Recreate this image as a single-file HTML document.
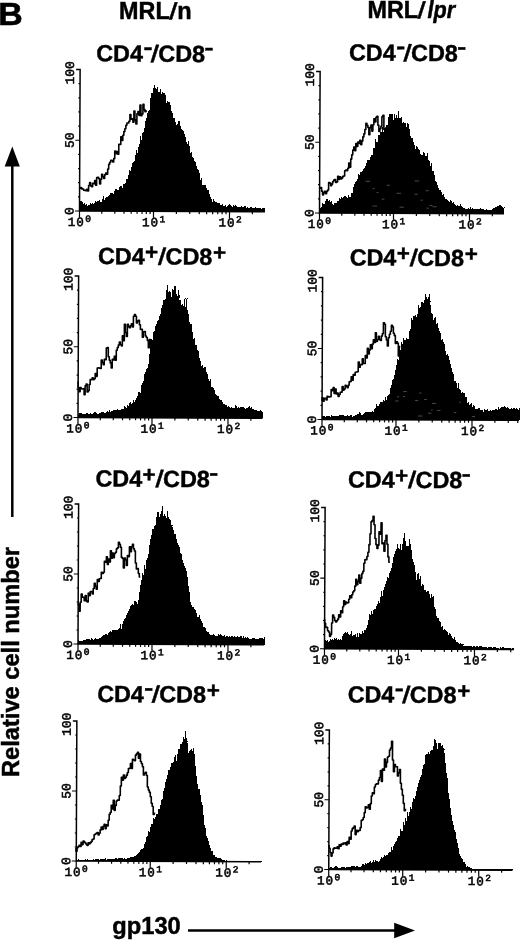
<!DOCTYPE html>
<html><head><meta charset="utf-8"><title>Figure B</title>
<style>html,body{margin:0;padding:0;background:#fff}svg{display:block}</style>
</head><body>
<svg width="520" height="942" viewBox="0 0 520 942">
<rect width="520" height="942" fill="#fff"/>
<g transform="rotate(0.25 79.5 211)">
<path d="M79.5 211V200.73h1V201.06h1V202.12h1V204h1V203.36h1V204.54h1V203.98h1V205.55h1V204.59h1V204.48h1V202.88h1V203.55h1V203.02h1V203.49h1V203.36h1V201.21h1V201.94h1V201.19h1V201h1V200.16h1V202.11h1V201.65h1V198.76h1V196.34h1V200.01h1V198.09h1V196.44h1V196.61h1V195.71h1V195.18h1V192.93h1V193.36h1V192.52h1V193.6h1V190.61h1V188.56h1V189.15h1V189.43h1V189.73h1V186.36h1V185.4h1V185.4h1V187.51h1V184.27h1V183.82h1V182.52h1V179h1V178.68h1V174.87h1V169.64h1V170.95h1V166.93h1V162.57h1V162.13h1V161.04h1V154.36h1V150.02h1V152.9h1V146.74h1V143.59h1V135.7h1V139.27h1V132.36h1V131.99h1V127.22h1V120.66h1V117.72h1V113.2h1V110.91h1V109.45h1V98.06h1V92.34h1V92.94h1V87.5h1V84.78h1V87.42h1V88.25h1V86.28h1V92.03h1V91.95h1V89.05h1V93.7h1V91.65h1V92.58h1V93.12h1V94.89h1V102.27h1V100.42h1V101.36h1V101.76h1V104.25h1V110.28h1V112.45h1V117.57h1V117.95h1V121.22h1V124.46h1V123.13h1V121.02h1V121.01h1V125.71h1V128.21h1V129.11h1V130.66h1V133.98h1V137.02h1V141.15h1V143.98h1V140.93h1V145.97h1V152.56h1V151.23h1V156.89h1V157.07h1V160.91h1V161.64h1V165.88h1V168.28h1V169.88h1V172.68h1V179.71h1V177.02h1V183.98h1V184.55h1V184.73h1V184.86h1V187.34h1V189.59h1V189.2h1V193.27h1V196.2h1V198.15h1V201.19h1V198.91h1V200.1h1V201.6h1V201.88h1V202.14h1V202.01h1V202.64h1V203.97h1V204.47h1V203.19h1V205.4h1V205.33h1V204.25h1V206.26h1V204.96h1V204.67h1V203.82h1V204.62h1V205.44h1V206.32h1V204.78h1V204.93h1V204.78h1V204.86h1V205.92h1V206.21h1V206.76h1V205.85h1V205.65h1V206.63h1V206.17h1V205.76h1V205.46h1V206.93h1V206.69h1V207.19h1V207.25h1V206.23h1V206.23h1V207.09h1V207.05h1V207.32h1V205.99h1V207.44h1V207.34h1V207.69h1V206.91h1V207.61h1V208.41h1V207.33h1V207.44h1V207.68h1V207.61h1V211Z" fill="#000" shape-rendering="crispEdges"/>
<path d="M79.5 187.84V188.24h1V187.45h1V188.9h1V188.97h1V190.2h1V190.38h1V190.58h1V189.31h1V190.95h1V185.39h1V182.57h1V185.89h1V186.73h1V183.16h1V183.69h1V180.41h1V185.21h1V177.56h1V177.23h1V178.71h1V183.78h1V179.09h1V174.13h1V176.65h1V178.43h1V174.62h1V172.86h1V173.96h1V168.96h1V164.22h1V162.11h1V160.05h1V160.42h1V161.74h1V158.5h1V151.01h1V153.51h1V151.48h1V154.02h1V144.21h1V144.21h1V136.64h1V140.25h1V135.08h1V131.38h1V128.5h1V125.07h1V122.78h1V122.82h1V120.97h1V114.36h1V118.94h1V118.53h1V121.98h1V110.9h1V119.65h1V123.73h1V113.62h1V111.32h1V115.1h1V104.69h1V115.44h1V113.66h1V104h1V109.32h1V111.43h1V110.69h1" fill="none" stroke="#000" stroke-width="1.6" stroke-linejoin="round"/>
<path d="M75.5 69.5H79.5V211H265" fill="none" stroke="#000" stroke-width="1.5"/>
<path d="M79.5 211h-4.5M79.5 196.85h-1.6M79.5 182.7h-1.6M79.5 168.55h-1.6M79.5 154.4h-1.6M79.5 140.25h-4.5M79.5 126.1h-1.6M79.5 111.95h-1.6M79.5 97.8h-1.6M79.5 83.65h-1.6M79.5 211v6.5M101.78 211v2.6M114.81 211v2.6M124.05 211v2.6M131.22 211v2.6M137.08 211v2.6M142.04 211v2.6M146.33 211v2.6M150.11 211v2.6M153.5 211v6.5M176.38 211v2.6M189.76 211v2.6M199.26 211v2.6M206.62 211v2.6M212.64 211v2.6M217.73 211v2.6M222.13 211v2.6M226.02 211v2.6M229.5 211v6.5M252.38 211v2.6" fill="none" stroke="#000" stroke-width="1.2"/>
<text transform="translate(73.5 72.8) rotate(-90)" text-anchor="middle" font-family="'Liberation Mono', 'DejaVu Sans Mono', monospace" font-size="13" stroke="#000" stroke-width="0.5">100</text>
<text transform="translate(73.5 140.25) rotate(-90)" text-anchor="middle" font-family="'Liberation Mono', 'DejaVu Sans Mono', monospace" font-size="13" stroke="#000" stroke-width="0.5">50</text>
<text transform="translate(73.5 211) rotate(-90)" text-anchor="middle" font-family="'Liberation Mono', 'DejaVu Sans Mono', monospace" font-size="13" stroke="#000" stroke-width="0.5">0</text>
<text x="67.9" y="226" font-family="'Liberation Mono', 'DejaVu Sans Mono', monospace" font-size="12.6" stroke="#000" stroke-width="0.55">1<tspan dx="0.9">0</tspan><tspan dy="-4.2" dx="1.4" font-size="9.5">0</tspan></text>
<text x="142.2" y="226" font-family="'Liberation Mono', 'DejaVu Sans Mono', monospace" font-size="12.6" stroke="#000" stroke-width="0.55">1<tspan dx="0.9">0</tspan><tspan dy="-4.2" dx="1.4" font-size="9.5">1</tspan></text>
<text x="218.6" y="226" font-family="'Liberation Mono', 'DejaVu Sans Mono', monospace" font-size="12.6" stroke="#000" stroke-width="0.55">1<tspan dx="0.9">0</tspan><tspan dy="-4.2" dx="1.4" font-size="9.5">2</tspan></text>
</g>
<g transform="rotate(0.25 319.5 213)">
<path d="M319.5 213V208.09h1V206.67h1V203.45h1V204.27h1V203.86h1V201.01h1V199h1V199.12h1V201.07h1V200.25h1V201.99h1V201.26h1V203.88h1V205.05h1V203.11h1V202.52h1V202.99h1V200.54h1V200.98h1V198.08h1V198.95h1V197.33h1V198.33h1V196.86h1V195.45h1V195.45h1V197.21h1V197.76h1V195.19h1V196.54h1V196.39h1V193.06h1V192.52h1V186.83h1V183.4h1V181.96h1V181.21h1V178.63h1V174.29h1V174.98h1V171.66h1V172.22h1V170.6h1V168.99h1V167.61h1V165.78h1V162.82h1V159.79h1V160.12h1V159.44h1V156.57h1V154.86h1V154.97h1V148.22h1V147.47h1V139.05h1V142.07h1V141.64h1V134.84h1V134.6h1V131.26h1V131.81h1V126.33h1V131.55h1V128.01h1V127.4h1V124.8h1V125.17h1V116.41h1V113.75h1V113.77h1V113.74h1V114.08h1V119.67h1V113.37h1V117.66h1V114.91h1V117.17h1V111.09h1V118.1h1V117.35h1V116.85h1V123.05h1V121.94h1V122.8h1V123.08h1V126.17h1V122.23h1V123.43h1V128.75h1V135.34h1V137.24h1V137.4h1V141.72h1V144.86h1V148.23h1V145.13h1V146.63h1V148.84h1V149.97h1V153.26h1V154.27h1V154.61h1V152.04h1V153.02h1V155.78h1V155.57h1V152.93h1V159.1h1V160.78h1V165.55h1V162.79h1V170.46h1V170.59h1V174.76h1V180.05h1V181.02h1V184.66h1V187.27h1V188.99h1V189.76h1V191.15h1V194.16h1V193.65h1V196.76h1V198.62h1V198.58h1V199.74h1V200.14h1V201.18h1V199.92h1V200.56h1V202.61h1V201.48h1V203.38h1V204.57h1V205.27h1V204.46h1V205.21h1V205.28h1V203.63h1V205.48h1V206.57h1V207.59h1V207.47h1V207.99h1V208.13h1V209.3h1V207.77h1V208.61h1V206.6h1V208.19h1V207.52h1V207.94h1V208.68h1V208.14h1V208.59h1V208.62h1V208.48h1V209.67h1V207.75h1V208.3h1V208.77h1V207.94h1V209.37h1V210.3h1V208.77h1V209.47h1V209.08h1V209.41h1V209.29h1V209.51h1V208.5h1V207.51h1V207.24h1V205.81h1V206.08h1V205.7h1V205.36h1V204.6h1V204h1V205.58h1V205.87h1V206.9h1V206.2h1V213Z" fill="#000" shape-rendering="crispEdges"/>
<path d="M381.5 198.83h2.81M372.5 188.3h1.8M386.5 184.95h3.27M425.5 190.28h3.11M426.5 207.68h2.32M376.5 192.18h2M372.5 205.83h4.51M396.5 192.94h4.49M432.5 206.25h4.18M414.5 180.58h4.45M414.5 193.85h3.28M429.5 204.98h2.89M365.5 181.12h4.48M399.5 206.83h4.29M420.5 199.73h2.1" stroke="#fff" stroke-width="0.7" stroke-opacity="0.42" fill="none"/>
<path d="M319.5 188.19V188.14h1V187.52h1V191.13h1V194.85h1V192.77h1V191.3h1V193.65h1V191.3h1V189.92h1V182.51h1V183.12h1V185.68h1V184.06h1V181.64h1V180.1h1V179.49h1V182.39h1V181.77h1V176.27h1V179.24h1V176.63h1V178.81h1V177.99h1V176.27h1V175.93h1V170.7h1V169.88h1V170.48h1V168.27h1V162.84h1V167.15h1V158.96h1V154.71h1V149.97h1V146.93h1V150.58h1V143.43h1V146.39h1V141.85h1V143.19h1V140.09h1V144.4h1V140.89h1V136.69h1V133.66h1V129.37h1V123.08h1V125h1V127.31h1V134.5h1V127.37h1V124.94h1V130.87h1V124.54h1V118.62h1V121.63h1V117.04h1V116h1V124.99h1V131.16h1V128.43h1V126.07h1V116.45h1V115h1V129.23h1V131.69h1V127.55h1" fill="none" stroke="#000" stroke-width="1.6" stroke-linejoin="round"/>
<path d="M315.5 71.5H319.5V213H504" fill="none" stroke="#000" stroke-width="1.5"/>
<path d="M319.5 213h-4.5M319.5 198.85h-1.6M319.5 184.7h-1.6M319.5 170.55h-1.6M319.5 156.4h-1.6M319.5 142.25h-4.5M319.5 128.1h-1.6M319.5 113.95h-1.6M319.5 99.8h-1.6M319.5 85.65h-1.6M319.5 213v6.5M341.78 213v2.6M354.81 213v2.6M364.05 213v2.6M371.22 213v2.6M377.08 213v2.6M382.04 213v2.6M386.33 213v2.6M390.11 213v2.6M393.5 213v6.5M416.38 213v2.6M429.76 213v2.6M439.26 213v2.6M446.62 213v2.6M452.64 213v2.6M457.73 213v2.6M462.13 213v2.6M466.02 213v2.6M469.5 213v6.5M492.38 213v2.6" fill="none" stroke="#000" stroke-width="1.2"/>
<text transform="translate(313.5 74.8) rotate(-90)" text-anchor="middle" font-family="'Liberation Mono', 'DejaVu Sans Mono', monospace" font-size="13" stroke="#000" stroke-width="0.5">100</text>
<text transform="translate(313.5 142.25) rotate(-90)" text-anchor="middle" font-family="'Liberation Mono', 'DejaVu Sans Mono', monospace" font-size="13" stroke="#000" stroke-width="0.5">50</text>
<text transform="translate(313.5 213) rotate(-90)" text-anchor="middle" font-family="'Liberation Mono', 'DejaVu Sans Mono', monospace" font-size="13" stroke="#000" stroke-width="0.5">0</text>
<text x="307.9" y="228" font-family="'Liberation Mono', 'DejaVu Sans Mono', monospace" font-size="12.6" stroke="#000" stroke-width="0.55">1<tspan dx="0.9">0</tspan><tspan dy="-4.2" dx="1.4" font-size="9.5">0</tspan></text>
<text x="382.2" y="228" font-family="'Liberation Mono', 'DejaVu Sans Mono', monospace" font-size="12.6" stroke="#000" stroke-width="0.55">1<tspan dx="0.9">0</tspan><tspan dy="-4.2" dx="1.4" font-size="9.5">1</tspan></text>
<text x="458.6" y="228" font-family="'Liberation Mono', 'DejaVu Sans Mono', monospace" font-size="12.6" stroke="#000" stroke-width="0.55">1<tspan dx="0.9">0</tspan><tspan dy="-4.2" dx="1.4" font-size="9.5">2</tspan></text>
</g>
<g transform="rotate(0.25 78 417.5)">
<path d="M78 417.5V413.5h1V413.29h1V413.42h1V413.03h1V414.12h1V413.99h1V414.12h1V414.02h1V412.83h1V413.25h1V413.87h1V413.79h1V412.59h1V413.85h1V413.45h1V412.81h1V412.31h1V412.22h1V413.23h1V413.63h1V413.48h1V412.51h1V412.58h1V411.78h1V411.81h1V411.46h1V412.64h1V412.51h1V411.6h1V411.13h1V411.76h1V410.13h1V412.05h1V410.76h1V411.17h1V410.01h1V409.76h1V410.2h1V409.5h1V408.59h1V409.96h1V409.83h1V409.83h1V408.74h1V408.68h1V408.81h1V406h1V407.16h1V407.64h1V404.31h1V405.46h1V403.06h1V401.84h1V403.49h1V403.08h1V399.49h1V401.3h1V399.34h1V397.42h1V395.97h1V391.78h1V392.22h1V393.18h1V384.92h1V382.64h1V380.43h1V373.52h1V371.56h1V368.45h1V367.8h1V363.29h1V353.53h1V339.3h1V338.93h1V339.22h1V332.09h1V330.27h1V325.62h1V323.86h1V320.83h1V319.95h1V315.29h1V313.94h1V308h1V304.15h1V299.89h1V298.32h1V289.75h1V285h1V291.61h1V290.73h1V291.23h1V296.99h1V288.52h1V290.01h1V285.49h1V286h1V293.84h1V295.21h1V289.16h1V294.56h1V299.13h1V300.25h1V305.04h1V303.72h1V305.65h1V297.29h1V306.28h1V297.5h1V309.42h1V313.13h1V321.53h1V323.68h1V323.54h1V331.69h1V338.16h1V337.29h1V344.22h1V344.54h1V349.27h1V350.86h1V357.7h1V360.13h1V365.9h1V364.22h1V367.19h1V366.91h1V366.44h1V371.39h1V373.1h1V378.37h1V380.24h1V378.45h1V386.43h1V386.48h1V387.68h1V389.33h1V393.73h1V394.29h1V394.92h1V395.3h1V398.16h1V399.86h1V399.5h1V401.11h1V403.64h1V403.19h1V404.13h1V404.4h1V406.56h1V405.17h1V405.92h1V407.49h1V406.44h1V407.31h1V407.13h1V406.9h1V404.77h1V405.76h1V407.8h1V405.82h1V407.27h1V405.86h1V406.48h1V406.05h1V406.39h1V407.71h1V407.91h1V407.32h1V407.31h1V406.6h1V405.6h1V407.55h1V406.34h1V407.85h1V408.07h1V409.65h1V409.05h1V408.89h1V409.85h1V410.51h1V410.23h1V409.69h1V410.14h1V411.53h1V417.5Z" fill="#000" shape-rendering="crispEdges"/>
<path d="M78 381.31V387.53h1V391.7h1V387.48h1V388.81h1V388.93h1V388.81h1V394.72h1V385.73h1V384.03h1V391.88h1V390.59h1V384.45h1V379.46h1V379.54h1V377.64h1V379.54h1V378.63h1V373.47h1V376.25h1V367.89h1V367.63h1V368.22h1V368.42h1V360.06h1V362.49h1V364.69h1V359.12h1V359.6h1V347.91h1V347.5h1V356.62h1V360.11h1V362.77h1V367.88h1V359.15h1V359.72h1V356.1h1V360.04h1V350.08h1V347.27h1V344.91h1V341.93h1V344.64h1V345.69h1V335.7h1V340.43h1V324h1V332.35h1V336.34h1V324h1V326.42h1V327.44h1V325.51h1V323.56h1V326.79h1V315.98h1V314.18h1V316h1V322.7h1V320.79h1V319.99h1V324.5h1V329.22h1V329.13h1V336.93h1V331.51h1V331.24h1V335.67h1V337.23h1V340.12h1V347.36h1V339.15h1V340.79h1" fill="none" stroke="#000" stroke-width="1.6" stroke-linejoin="round"/>
<path d="M74 276H78V417.5H262.5" fill="none" stroke="#000" stroke-width="1.5"/>
<path d="M78 417.5h-4.5M78 403.35h-1.6M78 389.2h-1.6M78 375.05h-1.6M78 360.9h-1.6M78 346.75h-4.5M78 332.6h-1.6M78 318.45h-1.6M78 304.3h-1.6M78 290.15h-1.6M78 417.5v6.5M100.28 417.5v2.6M113.31 417.5v2.6M122.55 417.5v2.6M129.72 417.5v2.6M135.58 417.5v2.6M140.54 417.5v2.6M144.83 417.5v2.6M148.61 417.5v2.6M152 417.5v6.5M174.88 417.5v2.6M188.26 417.5v2.6M197.76 417.5v2.6M205.12 417.5v2.6M211.14 417.5v2.6M216.23 417.5v2.6M220.63 417.5v2.6M224.52 417.5v2.6M228 417.5v6.5M250.88 417.5v2.6" fill="none" stroke="#000" stroke-width="1.2"/>
<text transform="translate(72 279.3) rotate(-90)" text-anchor="middle" font-family="'Liberation Mono', 'DejaVu Sans Mono', monospace" font-size="13" stroke="#000" stroke-width="0.5">100</text>
<text transform="translate(72 346.75) rotate(-90)" text-anchor="middle" font-family="'Liberation Mono', 'DejaVu Sans Mono', monospace" font-size="13" stroke="#000" stroke-width="0.5">50</text>
<text transform="translate(72 417.5) rotate(-90)" text-anchor="middle" font-family="'Liberation Mono', 'DejaVu Sans Mono', monospace" font-size="13" stroke="#000" stroke-width="0.5">0</text>
<text x="66.4" y="432.5" font-family="'Liberation Mono', 'DejaVu Sans Mono', monospace" font-size="12.6" stroke="#000" stroke-width="0.55">1<tspan dx="0.9">0</tspan><tspan dy="-4.2" dx="1.4" font-size="9.5">0</tspan></text>
<text x="140.7" y="432.5" font-family="'Liberation Mono', 'DejaVu Sans Mono', monospace" font-size="12.6" stroke="#000" stroke-width="0.55">1<tspan dx="0.9">0</tspan><tspan dy="-4.2" dx="1.4" font-size="9.5">1</tspan></text>
<text x="217.1" y="432.5" font-family="'Liberation Mono', 'DejaVu Sans Mono', monospace" font-size="12.6" stroke="#000" stroke-width="0.55">1<tspan dx="0.9">0</tspan><tspan dy="-4.2" dx="1.4" font-size="9.5">2</tspan></text>
</g>
<g transform="rotate(0.25 322 419.5)">
<path d="M322 419.5V415.62h1V416.22h1V416.27h1V416.9h1V416h1V415.81h1V416.2h1V416.11h1V416.73h1V415.14h1V415.67h1V416.02h1V415.46h1V415.57h1V415.67h1V415.8h1V415.62h1V415.38h1V415.14h1V415.09h1V415.31h1V414.99h1V415.57h1V416.33h1V416.25h1V414.88h1V416.29h1V415.78h1V415.28h1V414.7h1V416.43h1V415.78h1V415.4h1V415.18h1V414.52h1V413.81h1V413.72h1V412.07h1V412.67h1V414.47h1V414.39h1V413.34h1V413.18h1V411.97h1V412.09h1V411.75h1V412.17h1V411.62h1V411.47h1V411.74h1V410.91h1V411.79h1V408.46h1V407.42h1V403.79h1V405.44h1V405.75h1V403.47h1V401.65h1V401.68h1V401.59h1V399.88h1V400.5h1V396.57h1V399.34h1V395.91h1V394.66h1V393.76h1V387.8h1V384.72h1V379.38h1V378.22h1V375.03h1V369.76h1V364.44h1V358.69h1V359.28h1V353.66h1V349.64h1V341.48h1V343.28h1V337.58h1V339.71h1V339.17h1V337.6h1V338.62h1V338.92h1V330.84h1V328.56h1V318.08h1V319.78h1V315.69h1V315.23h1V314.38h1V316.22h1V313.93h1V304.29h1V308.06h1V306.24h1V301.27h1V302.85h1V301.59h1V293.41h1V297.04h1V298.05h1V296.76h1V293.75h1V300.69h1V304.75h1V312.69h1V313.64h1V319.34h1V317.61h1V316.76h1V323.26h1V322.83h1V327.37h1V330.68h1V332.66h1V339.83h1V338.62h1V341.26h1V343.54h1V350.42h1V354.68h1V353.58h1V354.99h1V359.35h1V363.61h1V367.16h1V371.87h1V373.46h1V380.19h1V379.98h1V382.76h1V387.48h1V382.79h1V388.81h1V389.64h1V392.62h1V391.24h1V392.09h1V391.99h1V396.45h1V396.63h1V401.9h1V401.71h1V404.42h1V403.03h1V402.84h1V405.96h1V404.22h1V405.11h1V407.84h1V407.84h1V408.02h1V407.45h1V406.84h1V408.95h1V409.41h1V409.08h1V411.37h1V408.71h1V409.45h1V409.78h1V408.55h1V410.15h1V410.73h1V409.45h1V410.37h1V409.63h1V409.63h1V409.06h1V408.53h1V408.12h1V409.17h1V406.54h1V407.83h1V407.55h1V406.01h1V406h1V405.96h1V405.49h1V405.87h1V407.34h1V406.11h1V407.45h1V408.15h1V408.36h1V407.44h1V408.53h1V406.85h1V407.48h1V407.87h1V407.53h1V407.88h1V409.58h1V406.87h1V419.5Z" fill="#000" shape-rendering="crispEdges"/>
<path d="M472 415.97h3.19M397 396.42h2.06M459 401.56h1.77M418 415.6h4.51M403 396.15h1.97M419 392.68h2.34M454 412.07h2.29M431 409.49h1.61M403 391.23h3.8M424 399.13h2.81M432 402.96h3.88M437 409.95h3.41M395 400.62h3.61M428 412.72h3.39M415 400.03h3.21" stroke="#fff" stroke-width="0.7" stroke-opacity="0.42" fill="none"/>
<path d="M322 400.91V397.83h1V401.22h1V398.25h1V398.36h1V399.86h1V396.21h1V396.81h1V396.82h1V396.59h1V389.55h1V390.59h1V387.5h1V393.4h1V388.89h1V393.93h1V392.87h1V396.31h1V394.47h1V392.24h1V392.08h1V386.45h1V389.99h1V389h1V385.09h1V386.07h1V387.56h1V385.12h1V381.75h1V381.26h1V376.63h1V380.18h1V374.47h1V375.15h1V372.08h1V371.85h1V371.55h1V361.95h1V367.03h1V364.38h1V364.59h1V358.5h1V363.36h1V363.26h1V355.31h1V357.81h1V348.22h1V353.71h1V349.67h1V344.69h1V348.49h1V343.86h1V339.47h1V342.29h1V332.5h1V341.32h1V339.54h1V335.95h1V339.28h1V340.16h1V335.82h1V333.35h1V322.5h1V323.94h1V336.44h1V339.7h1V345.71h1V337.52h1V333.98h1V331.02h1V325h1V326.57h1V332.95h1V335.35h1V343.14h1V341.43h1V343.03h1V355.69h1V346.25h1" fill="none" stroke="#000" stroke-width="1.6" stroke-linejoin="round"/>
<path d="M318 277.5H322V419.5H519" fill="none" stroke="#000" stroke-width="1.5"/>
<path d="M322 419.5h-4.5M322 405.3h-1.6M322 391.1h-1.6M322 376.9h-1.6M322 362.7h-1.6M322 348.5h-4.5M322 334.3h-1.6M322 320.1h-1.6M322 305.9h-1.6M322 291.7h-1.6M322 419.5v6.5M344.28 419.5v2.6M357.31 419.5v2.6M366.55 419.5v2.6M373.72 419.5v2.6M379.58 419.5v2.6M384.54 419.5v2.6M388.83 419.5v2.6M392.61 419.5v2.6M396 419.5v6.5M418.88 419.5v2.6M432.26 419.5v2.6M441.76 419.5v2.6M449.12 419.5v2.6M455.14 419.5v2.6M460.23 419.5v2.6M464.63 419.5v2.6M468.52 419.5v2.6M472 419.5v6.5M494.88 419.5v2.6M508.26 419.5v2.6M517.76 419.5v2.6" fill="none" stroke="#000" stroke-width="1.2"/>
<text transform="translate(316 280.8) rotate(-90)" text-anchor="middle" font-family="'Liberation Mono', 'DejaVu Sans Mono', monospace" font-size="13" stroke="#000" stroke-width="0.5">100</text>
<text transform="translate(316 348.5) rotate(-90)" text-anchor="middle" font-family="'Liberation Mono', 'DejaVu Sans Mono', monospace" font-size="13" stroke="#000" stroke-width="0.5">50</text>
<text transform="translate(316 419.5) rotate(-90)" text-anchor="middle" font-family="'Liberation Mono', 'DejaVu Sans Mono', monospace" font-size="13" stroke="#000" stroke-width="0.5">0</text>
<text x="310.4" y="434.5" font-family="'Liberation Mono', 'DejaVu Sans Mono', monospace" font-size="12.6" stroke="#000" stroke-width="0.55">1<tspan dx="0.9">0</tspan><tspan dy="-4.2" dx="1.4" font-size="9.5">0</tspan></text>
<text x="384.7" y="434.5" font-family="'Liberation Mono', 'DejaVu Sans Mono', monospace" font-size="12.6" stroke="#000" stroke-width="0.55">1<tspan dx="0.9">0</tspan><tspan dy="-4.2" dx="1.4" font-size="9.5">1</tspan></text>
<text x="461.1" y="434.5" font-family="'Liberation Mono', 'DejaVu Sans Mono', monospace" font-size="12.6" stroke="#000" stroke-width="0.55">1<tspan dx="0.9">0</tspan><tspan dy="-4.2" dx="1.4" font-size="9.5">2</tspan></text>
</g>
<g transform="rotate(0.25 78 644)">
<path d="M78 644V640.25h1V641.25h1V640.89h1V641.06h1V640.94h1V639.66h1V640.2h1V640.17h1V639.33h1V638.72h1V638.99h1V638.88h1V639.71h1V638.38h1V638.46h1V639.46h1V639.11h1V638.16h1V639.03h1V638.85h1V638.69h1V637.49h1V638.26h1V637.28h1V636.15h1V635.06h1V634.5h1V634.13h1V633.69h1V635.18h1V633.03h1V631.46h1V631.05h1V631.66h1V629.98h1V630.16h1V629.49h1V629.45h1V629.68h1V629.97h1V629.28h1V627.8h1V623.62h1V628.38h1V623.67h1V620.8h1V618.83h1V617.65h1V614.98h1V612.32h1V611.02h1V608.56h1V605.46h1V604.73h1V603.77h1V604.8h1V600.76h1V601.21h1V602.13h1V603.42h1V599.63h1V591.77h1V585h1V580.13h1V572.88h1V574.29h1V564.7h1V568.31h1V559.27h1V557.89h1V553.92h1V544.69h1V539.06h1V534.52h1V528.24h1V526.61h1V524.63h1V516.74h1V511.96h1V511.33h1V516.65h1V513.19h1V510.41h1V505.5h1V515.65h1V513.18h1V515.66h1V517.96h1V510.45h1V516.52h1V518.13h1V519.31h1V524.45h1V524.42h1V526.8h1V529.99h1V533.23h1V533.87h1V538.54h1V542.88h1V544.42h1V546.75h1V552.39h1V553.48h1V559.44h1V562.17h1V565.12h1V567.69h1V570.21h1V576.67h1V585.9h1V591.1h1V601.04h1V604.41h1V606.72h1V606.87h1V608.51h1V609.24h1V612.34h1V616.57h1V616.8h1V614.95h1V618.63h1V620.15h1V622.18h1V626.88h1V626.01h1V627.53h1V630.33h1V631.42h1V631.92h1V633.92h1V633.97h1V634.38h1V634.07h1V633.91h1V634.24h1V635.22h1V635.11h1V635.83h1V633.86h1V634.76h1V633.82h1V633.98h1V635.84h1V635.08h1V634.63h1V636.67h1V635.05h1V635.33h1V635.88h1V635.06h1V636.55h1V635.57h1V634.83h1V636.27h1V635.13h1V636.52h1V636.27h1V635.49h1V636.03h1V635.83h1V635.69h1V635.53h1V637.46h1V635.6h1V637.06h1V636.77h1V637.32h1V636.14h1V637h1V638.65h1V638.09h1V637.92h1V637.73h1V637.56h1V637.41h1V637.89h1V637.75h1V637.77h1V637.94h1V636.83h1V637.63h1V637.5h1V637.29h1V638.09h1V636.67h1V644Z" fill="#000" shape-rendering="crispEdges"/>
<path d="M78 603.44V604.38h1V611.19h1V602.24h1V594h1V597.11h1V597.51h1V600.7h1V595.48h1V601.01h1V601.97h1V593.13h1V595.56h1V591.54h1V591.42h1V593.84h1V588.44h1V583.35h1V586.28h1V589.16h1V579.39h1V581.42h1V578.7h1V578.32h1V572.19h1V573.37h1V572.16h1V561.18h1V562.04h1V556.69h1V564.43h1V558.82h1V561.87h1V550.66h1V558.16h1V553.01h1V557.65h1V553.32h1V552.19h1V548.62h1V547.69h1V542.16h1V544h1V547.12h1V557.22h1V558.19h1V567.79h1V557.8h1V559.74h1V565.21h1V555.25h1V556.36h1V546.66h1V551.51h1V546.56h1V544h1V548.5h1V550.7h1V562.77h1V568.67h1V568.3h1V573.22h1V576.74h1" fill="none" stroke="#000" stroke-width="1.6" stroke-linejoin="round"/>
<path d="M74 504H78V644H264" fill="none" stroke="#000" stroke-width="1.5"/>
<path d="M78 644h-4.5M78 630h-1.6M78 616h-1.6M78 602h-1.6M78 588h-1.6M78 574h-4.5M78 560h-1.6M78 546h-1.6M78 532h-1.6M78 518h-1.6M78 644v6.5M100.28 644v2.6M113.31 644v2.6M122.55 644v2.6M129.72 644v2.6M135.58 644v2.6M140.54 644v2.6M144.83 644v2.6M148.61 644v2.6M152 644v6.5M174.88 644v2.6M188.26 644v2.6M197.76 644v2.6M205.12 644v2.6M211.14 644v2.6M216.23 644v2.6M220.63 644v2.6M224.52 644v2.6M228 644v6.5M250.88 644v2.6" fill="none" stroke="#000" stroke-width="1.2"/>
<text transform="translate(72 507.3) rotate(-90)" text-anchor="middle" font-family="'Liberation Mono', 'DejaVu Sans Mono', monospace" font-size="13" stroke="#000" stroke-width="0.5">100</text>
<text transform="translate(72 574) rotate(-90)" text-anchor="middle" font-family="'Liberation Mono', 'DejaVu Sans Mono', monospace" font-size="13" stroke="#000" stroke-width="0.5">50</text>
<text transform="translate(72 644) rotate(-90)" text-anchor="middle" font-family="'Liberation Mono', 'DejaVu Sans Mono', monospace" font-size="13" stroke="#000" stroke-width="0.5">0</text>
<text x="66.4" y="659" font-family="'Liberation Mono', 'DejaVu Sans Mono', monospace" font-size="12.6" stroke="#000" stroke-width="0.55">1<tspan dx="0.9">0</tspan><tspan dy="-4.2" dx="1.4" font-size="9.5">0</tspan></text>
<text x="140.7" y="659" font-family="'Liberation Mono', 'DejaVu Sans Mono', monospace" font-size="12.6" stroke="#000" stroke-width="0.55">1<tspan dx="0.9">0</tspan><tspan dy="-4.2" dx="1.4" font-size="9.5">1</tspan></text>
<text x="217.1" y="659" font-family="'Liberation Mono', 'DejaVu Sans Mono', monospace" font-size="12.6" stroke="#000" stroke-width="0.55">1<tspan dx="0.9">0</tspan><tspan dy="-4.2" dx="1.4" font-size="9.5">2</tspan></text>
</g>
<g transform="rotate(0.25 324.5 648.75)">
<path d="M324.5 648.75V639.75h1V640.72h1V639.62h1V641.97h1V640.49h1V638.59h1V640.05h1V639.3h1V640.44h1V638.43h1V638.75h1V638.42h1V639.63h1V638.83h1V639.93h1V638.73h1V640.01h1V636.1h1V634.3h1V632.5h1V631.53h1V633.31h1V631.46h1V634.05h1V634.53h1V634.04h1V630.54h1V635.95h1V634.82h1V634.99h1V634.04h1V636.54h1V633.16h1V637.23h1V632.69h1V633.64h1V633.45h1V630.52h1V632.38h1V629.48h1V630.04h1V628.01h1V624.82h1V619.87h1V613.7h1V615.3h1V611.19h1V613.34h1V609.85h1V608.65h1V609.04h1V605.54h1V603.77h1V601.26h1V602.73h1V596.53h1V590.84h1V595.7h1V589.38h1V586.6h1V583.5h1V580.4h1V577.11h1V577.31h1V572.26h1V570.49h1V568.1h1V562.41h1V556.48h1V553.59h1V551.19h1V548.25h1V543.75h1V547.37h1V548.3h1V544.08h1V549.65h1V543.58h1V537.84h1V533h1V540.55h1V545.16h1V545.25h1V545.72h1V539h1V543.84h1V549.46h1V558.43h1V561.64h1V564.61h1V571.6h1V579.62h1V573.47h1V573.01h1V578.56h1V575.4h1V585.14h1V583.5h1V584.36h1V589.98h1V590.01h1V591.17h1V590.63h1V590.53h1V594.02h1V597.8h1V593.08h1V596.2h1V595.96h1V606.08h1V608.1h1V615.47h1V617.46h1V617.55h1V620.03h1V621.04h1V626.27h1V625.12h1V629.07h1V628.91h1V629.68h1V630.67h1V631.45h1V634.5h1V632.88h1V633.93h1V635.23h1V637.06h1V638.4h1V636.58h1V639.78h1V641.29h1V641.09h1V642.6h1V643.13h1V642.65h1V643.37h1V643.64h1V643.88h1V644.97h1V645.28h1V645.11h1V645.44h1V645.39h1V645.01h1V645.34h1V644.91h1V646.03h1V645.59h1V645.82h1V646.41h1V645.47h1V645.77h1V646.32h1V645.45h1V645.69h1V645.03h1V646.31h1V646.37h1V646.38h1V646.62h1V646.55h1V647.09h1V646.1h1V646.53h1V646.47h1V646.52h1V647.14h1V646.14h1V646.3h1V646.07h1V646.78h1V646.95h1V647.19h1V647.75h1V646.38h1V647.02h1V646.59h1V646.68h1V646.85h1V647.42h1V647.65h1V646.97h1V647.32h1V647.25h1V647.09h1V647.75h1V646.88h1V647.44h1V647.25h1V648.75Z" fill="#000" shape-rendering="crispEdges"/>
<path d="M324.5 618.83V623.24h1V627.42h1V627.38h1V630.81h1V631.98h1V636.33h1V634.3h1V623h1V615h1V617.35h1V620.5h1V621.94h1V620.63h1V619.04h1V614.66h1V616.87h1V610.62h1V612.7h1V606.73h1V600.75h1V604.41h1V601.87h1V602.93h1V602.58h1V599.09h1V595.67h1V597.62h1V594.65h1V591.82h1V590.57h1V586.01h1V579.2h1V584.59h1V581.42h1V574.96h1V583.01h1V578.13h1V573.43h1V571.16h1V563.13h1V559.29h1V559.63h1V556.3h1V552.01h1V544.44h1V533.54h1V521.62h1V520.4h1V516h1V524.58h1V538.27h1V544.43h1V548.29h1V544.89h1V531.55h1V534.05h1V522.5h1V543.54h1V542.91h1V550.89h1V540.29h1V535h1V543.97h1V556.64h1V561.96h1" fill="none" stroke="#000" stroke-width="1.6" stroke-linejoin="round"/>
<path d="M320.5 507.5H324.5V648.75H514" fill="none" stroke="#000" stroke-width="1.5"/>
<path d="M324.5 648.75h-4.5M324.5 634.62h-1.6M324.5 620.5h-1.6M324.5 606.38h-1.6M324.5 592.25h-1.6M324.5 578.12h-4.5M324.5 564h-1.6M324.5 549.88h-1.6M324.5 535.75h-1.6M324.5 521.62h-1.6M324.5 648.75v6.5M346.78 648.75v2.6M359.81 648.75v2.6M369.05 648.75v2.6M376.22 648.75v2.6M382.08 648.75v2.6M387.04 648.75v2.6M391.33 648.75v2.6M395.11 648.75v2.6M398.5 648.75v6.5M421.38 648.75v2.6M434.76 648.75v2.6M444.26 648.75v2.6M451.62 648.75v2.6M457.64 648.75v2.6M462.73 648.75v2.6M467.13 648.75v2.6M471.02 648.75v2.6M474.5 648.75v6.5M497.38 648.75v2.6M510.76 648.75v2.6" fill="none" stroke="#000" stroke-width="1.2"/>
<text transform="translate(318.5 510.8) rotate(-90)" text-anchor="middle" font-family="'Liberation Mono', 'DejaVu Sans Mono', monospace" font-size="13" stroke="#000" stroke-width="0.5">100</text>
<text transform="translate(318.5 578.12) rotate(-90)" text-anchor="middle" font-family="'Liberation Mono', 'DejaVu Sans Mono', monospace" font-size="13" stroke="#000" stroke-width="0.5">50</text>
<text transform="translate(318.5 648.75) rotate(-90)" text-anchor="middle" font-family="'Liberation Mono', 'DejaVu Sans Mono', monospace" font-size="13" stroke="#000" stroke-width="0.5">0</text>
<text x="312.9" y="663.75" font-family="'Liberation Mono', 'DejaVu Sans Mono', monospace" font-size="12.6" stroke="#000" stroke-width="0.55">1<tspan dx="0.9">0</tspan><tspan dy="-4.2" dx="1.4" font-size="9.5">0</tspan></text>
<text x="387.2" y="663.75" font-family="'Liberation Mono', 'DejaVu Sans Mono', monospace" font-size="12.6" stroke="#000" stroke-width="0.55">1<tspan dx="0.9">0</tspan><tspan dy="-4.2" dx="1.4" font-size="9.5">1</tspan></text>
<text x="463.6" y="663.75" font-family="'Liberation Mono', 'DejaVu Sans Mono', monospace" font-size="12.6" stroke="#000" stroke-width="0.55">1<tspan dx="0.9">0</tspan><tspan dy="-4.2" dx="1.4" font-size="9.5">2</tspan></text>
</g>
<g transform="rotate(0.25 76.25 861)">
<path d="M76 861V860h1V860h1V859.35h1V859.91h1V859.9h1V859.99h1V859.67h1V860h1V859.47h1V858.97h1V859.93h1V859.4h1V859.91h1V860h1V859.55h1V859.78h1V859.66h1V859.41h1V859.45h1V858.94h1V859.01h1V859.12h1V859.14h1V859.41h1V859.25h1V859.07h1V859.09h1V859.21h1V858.72h1V858.36h1V859.39h1V858.69h1V859.21h1V859.1h1V858.97h1V858.61h1V858.5h1V858.41h1V858.59h1V858.18h1V858.28h1V858.67h1V858.2h1V858.14h1V857.79h1V857.69h1V857.54h1V858.47h1V857.64h1V858.33h1V858.33h1V857.43h1V857.51h1V857.33h1V857.26h1V856.49h1V856.72h1V856.93h1V855.72h1V855.53h1V855.21h1V853.95h1V852.57h1V851.37h1V849.39h1V848.68h1V848.57h1V847.56h1V843.59h1V841.98h1V837.05h1V835.37h1V830.65h1V831.75h1V826.37h1V824.14h1V823.39h1V817.34h1V818.39h1V816.17h1V813.8h1V813.3h1V808.65h1V808.9h1V804.25h1V799.81h1V798.41h1V790.82h1V787.71h1V782.11h1V778.77h1V774.75h1V769.35h1V769.36h1V766.29h1V762.69h1V762.82h1V761.11h1V757.07h1V754.2h1V760.27h1V753.63h1V748.29h1V748.74h1V743.09h1V746.03h1V736.07h1V738.28h1V731h1V737.56h1V740.07h1V742.61h1V752.32h1V750.14h1V749.79h1V748.74h1V750.22h1V747.87h1V753.69h1V765.96h1V775.68h1V783.86h1V788.32h1V788.79h1V794.26h1V801.95h1V804.52h1V814.37h1V823.96h1V827.45h1V835.43h1V837.26h1V840.6h1V844.85h1V847.32h1V850.09h1V850.85h1V854.81h1V854.21h1V856.68h1V855.91h1V857.13h1V857.53h1V857.32h1V857.6h1V858.24h1V859.42h1V859.17h1V859.45h1V860h1V859.77h1V860h1V859.88h1V860h1V860h1V860h1V860h1V860h1V860h1V860h1V860h1V860h1V860h1V860h1V860h1V860h1V860h1V860h1V860h1V860h1V860h1V860h1V860h1V860h1V860h1V860h1V860h1V860h1V860h1V860h1V860h1V860h1V860h1V860h1V860h1V860h1V861Z" fill="#000" shape-rendering="crispEdges"/>
<path d="M76 847.96V851.22h1V847.73h1V846.48h1V845.35h1V846.5h1V842.4h1V844.56h1V841h1V842.13h1V842.93h1V844.46h1V845.43h1V842.74h1V843.78h1V842.58h1V841.53h1V839.53h1V838.95h1V834.7h1V833.97h1V833.21h1V832.5h1V834.97h1V833.18h1V829.78h1V826.85h1V829.37h1V826.13h1V824.11h1V828.63h1V824.75h1V825.74h1V820.1h1V814.15h1V812.2h1V805.12h1V808.7h1V800.21h1V810.16h1V805.22h1V800.8h1V799.85h1V800.03h1V795.36h1V785.86h1V777.03h1V780h1V774.78h1V778.35h1V776.98h1V774.91h1V772.22h1V768.24h1V768.09h1V763.22h1V768.26h1V759.03h1V759.73h1V760.47h1V754.82h1V753.52h1V752.12h1V757.86h1V753.75h1V761.26h1V763.47h1V766.52h1V774.77h1V773.02h1V771.97h1V775.12h1V786.65h1V789.65h1V792.03h1V796.39h1V803h1V806.24h1V814.07h1V812.88h1" fill="none" stroke="#000" stroke-width="1.6" stroke-linejoin="round"/>
<path d="M72.25 721H76.25V861H261" fill="none" stroke="#000" stroke-width="1.5"/>
<path d="M76.25 861h-4.5M76.25 847h-1.6M76.25 833h-1.6M76.25 819h-1.6M76.25 805h-1.6M76.25 791h-4.5M76.25 777h-1.6M76.25 763h-1.6M76.25 749h-1.6M76.25 735h-1.6M76.25 861v6.5M98.53 861v2.6M111.56 861v2.6M120.8 861v2.6M127.97 861v2.6M133.83 861v2.6M138.79 861v2.6M143.08 861v2.6M146.86 861v2.6M150.25 861v6.5M173.13 861v2.6M186.51 861v2.6M196.01 861v2.6M203.37 861v2.6M209.39 861v2.6M214.48 861v2.6M218.88 861v2.6M222.77 861v2.6M226.25 861v6.5M249.13 861v2.6" fill="none" stroke="#000" stroke-width="1.2"/>
<text transform="translate(70.25 724.3) rotate(-90)" text-anchor="middle" font-family="'Liberation Mono', 'DejaVu Sans Mono', monospace" font-size="13" stroke="#000" stroke-width="0.5">100</text>
<text transform="translate(70.25 791) rotate(-90)" text-anchor="middle" font-family="'Liberation Mono', 'DejaVu Sans Mono', monospace" font-size="13" stroke="#000" stroke-width="0.5">50</text>
<text transform="translate(70.25 861) rotate(-90)" text-anchor="middle" font-family="'Liberation Mono', 'DejaVu Sans Mono', monospace" font-size="13" stroke="#000" stroke-width="0.5">0</text>
<text x="64.65" y="876" font-family="'Liberation Mono', 'DejaVu Sans Mono', monospace" font-size="12.6" stroke="#000" stroke-width="0.55">1<tspan dx="0.9">0</tspan><tspan dy="-4.2" dx="1.4" font-size="9.5">0</tspan></text>
<text x="138.95" y="876" font-family="'Liberation Mono', 'DejaVu Sans Mono', monospace" font-size="12.6" stroke="#000" stroke-width="0.55">1<tspan dx="0.9">0</tspan><tspan dy="-4.2" dx="1.4" font-size="9.5">1</tspan></text>
<text x="215.35" y="876" font-family="'Liberation Mono', 'DejaVu Sans Mono', monospace" font-size="12.6" stroke="#000" stroke-width="0.55">1<tspan dx="0.9">0</tspan><tspan dy="-4.2" dx="1.4" font-size="9.5">2</tspan></text>
</g>
<g transform="rotate(0.25 328.75 869.5)">
<path d="M329 869.5V867.62h1V867.08h1V866.98h1V867.59h1V867.79h1V867.36h1V866.39h1V866.16h1V867.25h1V867.53h1V867.72h1V867.5h1V866.78h1V867.22h1V867.09h1V866.67h1V867.74h1V867.38h1V866.81h1V866.99h1V866.82h1V866.51h1V866.31h1V866.08h1V866.29h1V866.14h1V866.39h1V865.85h1V866.09h1V866.56h1V866.61h1V866.51h1V865.61h1V864.32h1V863.9h1V864.72h1V862.92h1V864.06h1V862.44h1V862.78h1V861.87h1V860.78h1V862.62h1V862.24h1V860h1V861.78h1V859.58h1V860.77h1V861h1V861.31h1V860.76h1V858.41h1V856.91h1V857.78h1V856.76h1V854.65h1V855.77h1V854.9h1V854.35h1V852.36h1V851.54h1V852.22h1V846.55h1V849.68h1V845.39h1V844.11h1V841.83h1V841.13h1V837.68h1V835.5h1V835.34h1V828.88h1V831h1V830.69h1V821.79h1V824.81h1V817.36h1V820.85h1V811.3h1V815.36h1V811.97h1V806.62h1V808.86h1V801.72h1V797.26h1V798.38h1V795.2h1V790.31h1V786.54h1V782.89h1V779.98h1V776.48h1V774.88h1V768.2h1V764.58h1V763.3h1V754.98h1V753.94h1V751.51h1V753.51h1V752.16h1V749.2h1V749.49h1V745.08h1V738.93h1V739.6h1V742.5h1V748.87h1V742.65h1V742.62h1V742.47h1V745.95h1V744.84h1V747.64h1V748.41h1V752.19h1V762.41h1V772.42h1V776.99h1V792.87h1V798.83h1V807.02h1V814.1h1V820.69h1V824.9h1V829.91h1V831.28h1V838.09h1V841.97h1V847.22h1V853.58h1V855.84h1V857.18h1V858.48h1V861.14h1V861.42h1V863.15h1V866.02h1V865.66h1V866.23h1V866h1V867.47h1V867.55h1V868.5h1V868.46h1V868.5h1V868.5h1V868.48h1V868.5h1V868.33h1V868.5h1V868.5h1V868.5h1V868.5h1V868.4h1V868.5h1V867.91h1V868.5h1V868.5h1V868.5h1V868.5h1V868.5h1V868.5h1V868.47h1V868.37h1V868.5h1V868.47h1V868.45h1V868.5h1V868.5h1V868.5h1V868.5h1V868.5h1V868.37h1V868.5h1V868.28h1V868.5h1V868.5h1V868.5h1V868.32h1V868.5h1V868.5h1V868.5h1V868.45h1V869.5Z" fill="#000" shape-rendering="crispEdges"/>
<path d="M329 844.89V848.17h1V852.54h1V856.1h1V853h1V848.87h1V847.79h1V848.15h1V848.25h1V846.7h1V848.59h1V844.79h1V846.25h1V843.88h1V844.44h1V842.94h1V843.54h1V842.7h1V844.97h1V841.37h1V843.49h1V837.24h1V839.14h1V830.93h1V828.53h1V827.5h1V826.05h1V834.47h1V830.19h1V831.62h1V830.52h1V830.26h1V827.47h1V820.24h1V819.63h1V817.39h1V812.43h1V806.63h1V807.82h1V807.31h1V804.51h1V809.11h1V803.48h1V795.77h1V792.71h1V793.55h1V786.87h1V784.35h1V783.62h1V783.81h1V779.92h1V777.32h1V770.26h1V781.21h1V768.92h1V770.04h1V758.85h1V766.7h1V762.14h1V756.68h1V755.95h1V749.68h1V747.79h1V741h1V759.76h1V771.52h1V764.26h1V766.42h1V766.5h1V775.62h1V772.53h1V769.18h1V782.96h1V788.99h1V794.95h1V803.05h1V810.33h1V809.26h1" fill="none" stroke="#000" stroke-width="1.6" stroke-linejoin="round"/>
<path d="M324.75 730H328.75V869.5H512.5" fill="none" stroke="#000" stroke-width="1.5"/>
<path d="M328.75 869.5h-4.5M328.75 855.55h-1.6M328.75 841.6h-1.6M328.75 827.65h-1.6M328.75 813.7h-1.6M328.75 799.75h-4.5M328.75 785.8h-1.6M328.75 771.85h-1.6M328.75 757.9h-1.6M328.75 743.95h-1.6M328.75 869.5v6.5M351.03 869.5v2.6M364.06 869.5v2.6M373.3 869.5v2.6M380.47 869.5v2.6M386.33 869.5v2.6M391.29 869.5v2.6M395.58 869.5v2.6M399.36 869.5v2.6M402.75 869.5v6.5M425.63 869.5v2.6M439.01 869.5v2.6M448.51 869.5v2.6M455.87 869.5v2.6M461.89 869.5v2.6M466.98 869.5v2.6M471.38 869.5v2.6M475.27 869.5v2.6M478.75 869.5v6.5M501.63 869.5v2.6" fill="none" stroke="#000" stroke-width="1.2"/>
<text transform="translate(322.75 733.3) rotate(-90)" text-anchor="middle" font-family="'Liberation Mono', 'DejaVu Sans Mono', monospace" font-size="13" stroke="#000" stroke-width="0.5">100</text>
<text transform="translate(322.75 799.75) rotate(-90)" text-anchor="middle" font-family="'Liberation Mono', 'DejaVu Sans Mono', monospace" font-size="13" stroke="#000" stroke-width="0.5">50</text>
<text transform="translate(322.75 869.5) rotate(-90)" text-anchor="middle" font-family="'Liberation Mono', 'DejaVu Sans Mono', monospace" font-size="13" stroke="#000" stroke-width="0.5">0</text>
<text x="317.15" y="884.5" font-family="'Liberation Mono', 'DejaVu Sans Mono', monospace" font-size="12.6" stroke="#000" stroke-width="0.55">1<tspan dx="0.9">0</tspan><tspan dy="-4.2" dx="1.4" font-size="9.5">0</tspan></text>
<text x="391.45" y="884.5" font-family="'Liberation Mono', 'DejaVu Sans Mono', monospace" font-size="12.6" stroke="#000" stroke-width="0.55">1<tspan dx="0.9">0</tspan><tspan dy="-4.2" dx="1.4" font-size="9.5">1</tspan></text>
<text x="467.85" y="884.5" font-family="'Liberation Mono', 'DejaVu Sans Mono', monospace" font-size="12.6" stroke="#000" stroke-width="0.55">1<tspan dx="0.9">0</tspan><tspan dy="-4.2" dx="1.4" font-size="9.5">2</tspan></text>
</g>
<g transform="rotate(0.35 97.3 61.3)" font-family="'Liberation Sans', Arial, Helvetica, sans-serif" font-weight="bold" font-size="23.4" stroke="#000" stroke-width="0.45"><text x="96.3" y="61.3" textLength="46.6" lengthAdjust="spacingAndGlyphs">CD4</text><text transform="translate(143.4 54) scale(1.27 1)" font-size="21">-</text><text transform="translate(150.6 61.3) skewX(-7)">/</text><text x="158.3" y="61.3">CD8</text><text transform="translate(204.4 54) scale(1.27 1)" font-size="21">-</text></g>
<g transform="rotate(0.35 350 60.6)" font-family="'Liberation Sans', Arial, Helvetica, sans-serif" font-weight="bold" font-size="23.4" stroke="#000" stroke-width="0.45"><text x="349" y="60.6" textLength="46.6" lengthAdjust="spacingAndGlyphs">CD4</text><text transform="translate(396.1 53.3) scale(1.27 1)" font-size="21">-</text><text transform="translate(403.3 60.6) skewX(-7)">/</text><text x="411" y="60.6">CD8</text><text transform="translate(457.1 53.3) scale(1.27 1)" font-size="21">-</text></g>
<g transform="rotate(0.35 99 264.1)" font-family="'Liberation Sans', Arial, Helvetica, sans-serif" font-weight="bold" font-size="23.4" stroke="#000" stroke-width="0.45"><text x="98" y="264.1" textLength="46.6" lengthAdjust="spacingAndGlyphs">CD4</text><text x="145.1" y="259.2" font-size="22.4">+</text><text transform="translate(157.8 264.1) skewX(-7)">/</text><text x="165.5" y="264.1">CD8</text><text x="213" y="259.2" font-size="22.4">+</text></g>
<g transform="rotate(0.35 350.7 265.4)" font-family="'Liberation Sans', Arial, Helvetica, sans-serif" font-weight="bold" font-size="23.4" stroke="#000" stroke-width="0.45"><text x="349.7" y="265.4" textLength="46.6" lengthAdjust="spacingAndGlyphs">CD4</text><text x="396.8" y="260.5" font-size="22.4">+</text><text transform="translate(409.5 265.4) skewX(-7)">/</text><text x="417.2" y="265.4">CD8</text><text x="464.7" y="260.5" font-size="22.4">+</text></g>
<g transform="rotate(0.35 96.5 486.5)" font-family="'Liberation Sans', Arial, Helvetica, sans-serif" font-weight="bold" font-size="23.4" stroke="#000" stroke-width="0.45"><text x="95.5" y="486.5" textLength="46.6" lengthAdjust="spacingAndGlyphs">CD4</text><text x="142.6" y="481.6" font-size="22.4">+</text><text transform="translate(155.3 486.5) skewX(-7)">/</text><text x="163" y="486.5">CD8</text><text transform="translate(209.1 479.2) scale(1.27 1)" font-size="21">-</text></g>
<g transform="rotate(0.35 349 487.5)" font-family="'Liberation Sans', Arial, Helvetica, sans-serif" font-weight="bold" font-size="23.4" stroke="#000" stroke-width="0.45"><text x="348" y="487.5" textLength="46.6" lengthAdjust="spacingAndGlyphs">CD4</text><text x="395.1" y="482.6" font-size="22.4">+</text><text transform="translate(407.8 487.5) skewX(-7)">/</text><text x="415.5" y="487.5">CD8</text><text transform="translate(461.6 480.2) scale(1.27 1)" font-size="21">-</text></g>
<g transform="rotate(0.35 98.2 702)" font-family="'Liberation Sans', Arial, Helvetica, sans-serif" font-weight="bold" font-size="23.4" stroke="#000" stroke-width="0.45"><text x="97.2" y="702" textLength="46.6" lengthAdjust="spacingAndGlyphs">CD4</text><text transform="translate(144.3 694.7) scale(1.27 1)" font-size="21">-</text><text transform="translate(151.5 702) skewX(-7)">/</text><text x="159.2" y="702">CD8</text><text x="206.7" y="697.1" font-size="22.4">+</text></g>
<g transform="rotate(0.35 348.7 702.4)" font-family="'Liberation Sans', Arial, Helvetica, sans-serif" font-weight="bold" font-size="23.4" stroke="#000" stroke-width="0.45"><text x="347.7" y="702.4" textLength="46.6" lengthAdjust="spacingAndGlyphs">CD4</text><text transform="translate(394.8 695.1) scale(1.27 1)" font-size="21">-</text><text transform="translate(402 702.4) skewX(-7)">/</text><text x="409.7" y="702.4">CD8</text><text x="457.2" y="697.5" font-size="22.4">+</text></g>
<text x="-1.8" y="25" font-family="'Liberation Sans', Arial, Helvetica, sans-serif" font-size="31.5" font-weight="bold" stroke="#000" stroke-width="0.6" textLength="24.5" lengthAdjust="spacingAndGlyphs">B</text>
<g font-family="'Liberation Sans', Arial, Helvetica, sans-serif" font-size="23" font-weight="bold" stroke="#000" stroke-width="0.45"><text x="119.1" y="19.2" textLength="50.6" lengthAdjust="spacingAndGlyphs">MRL</text><text transform="translate(168.9 19.2) skewX(-8)">/</text><text x="177.3" y="19.2" textLength="14.4" lengthAdjust="spacingAndGlyphs">n</text><text x="367.5" y="17.6" textLength="50.6" lengthAdjust="spacingAndGlyphs">MRL</text><text transform="translate(417.3 17.6) skewX(-8)">/</text><text x="427.6" y="17.6" font-style="italic" textLength="27.6" lengthAdjust="spacingAndGlyphs">lpr</text></g>
<text transform="translate(19.3 777) rotate(-90)" font-family="'Liberation Sans', Arial, Helvetica, sans-serif" font-size="23.5" font-weight="bold" stroke="#000" stroke-width="0.5" textLength="230" lengthAdjust="spacingAndGlyphs">Relative cell number</text>
<text x="112.3" y="934.4" font-family="'Liberation Sans', Arial, Helvetica, sans-serif" font-size="23.4" font-weight="bold" stroke="#000" stroke-width="0.45" textLength="68.5" lengthAdjust="spacingAndGlyphs">gp130</text>
<path d="M12.3 517V165" stroke="#000" stroke-width="2.5" fill="none"/>
<path d="M12.3 146.5L19.8 166.5H4.7Z" fill="#000"/>
<path d="M188 930.6H396" stroke="#000" stroke-width="2.5" fill="none"/>
<path d="M415 930.6L394.2 922.8V938.3Z" fill="#000"/>
</svg>
</body></html>
